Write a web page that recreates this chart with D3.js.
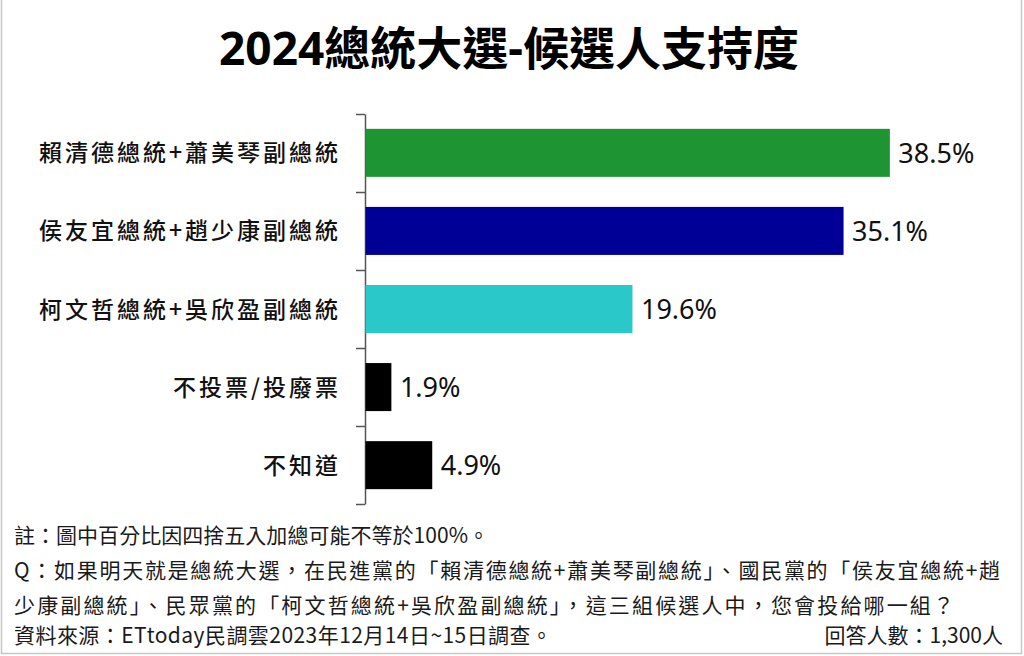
<!DOCTYPE html>
<html>
<head>
<meta charset="utf-8">
<script src="https://cdn.jsdelivr.net/npm/d3@7"></script>
<style>
  html, body { margin: 0; padding: 0; background: #fff; }
  svg { display: block; font-family: "Noto Sans", "Noto Sans CJK TC", sans-serif; }
</style>
</head>
<body>
<svg id="chart" width="1024" height="656"></svg>
<script>
// chart data
const categories = [
  "賴清德總統+蕭美琴副總統",
  "侯友宜總統+趙少康副總統",
  "柯文哲總統+吳欣盈副總統",
  "不投票/投廢票",
  "不知道"
];
const values = [38.5, 35.1, 19.6, 1.9, 4.9];
const barColors = ["#1f9433", "#000096", "#2ac8c8", "#000000", "#000000"];

const title = "2024總統大選-候選人支持度";
const notes = [
  "註：圖中百分比因四捨五入加總可能不等於100%。",
  "Q：如果明天就是總統大選，在民進黨的「賴清德總統+蕭美琴副總統」、國民黨的「侯友宜總統+趙",
  "少康副總統」、民眾黨的「柯文哲總統+吳欣盈副總統」，這三組候選人中，您會投給哪一組？",
  "資料來源：ETtoday民調雲2023年12月14日~15日調查。"
];
const respondents = "回答人數：1,300人";

const svg = d3.select("#chart");

// light frame round the picture
svg.append("rect")
  .attr("x", 1.5)
  .attr("y", -2)
  .attr("width", 1020)
  .attr("height", 655.5)
  .attr("fill", "none")
  .attr("stroke", "#c8c8c8")
  .attr("stroke-width", 1.5);

// title
svg.append("text")
  .attr("x", 509)
  .attr("y", 65)
  .attr("text-anchor", "middle")
  .style("font-size", "46px")
  .style("font-weight", "bold")
  .style("fill", "#000")
  .text(title);

// scales
const axisX = 365;
const x = d3.scaleLinear()
  .domain([0, 40])
  .range([axisX, axisX + 13.62 * 40]);

const y = d3.scaleBand()
  .domain(categories)
  .range([114, 504])
  .paddingInner(0.385)
  .paddingOuter(0.19);

// axis with ticks on band boundaries
const yEdge = d3.scaleLinear()
  .domain([0, categories.length])
  .range([114, 504]);

const yAxis = svg.append("g")
  .attr("transform", `translate(${axisX},0)`)
  .call(d3.axisLeft(yEdge)
    .tickValues(d3.range(categories.length + 1))
    .tickFormat("")
    .tickSizeInner(9)
    .tickSizeOuter(0));

yAxis.select(".domain").style("stroke", "#555").style("stroke-width", 1.5);
yAxis.selectAll(".tick line").style("stroke", "#555").style("stroke-width", 1.5);

// bars
svg.append("g")
  .selectAll("rect")
  .data(values)
  .enter()
  .append("rect")
  .attr("x", x(0) + 0.5)
  .attr("y", (d, i) => y(categories[i]))
  .attr("width", d => x(d) - x(0))
  .attr("height", y.bandwidth())
  .attr("fill", (d, i) => barColors[i]);

// value labels
svg.append("g")
  .selectAll("text")
  .data(values)
  .enter()
  .append("text")
  .attr("x", d => x(d) + 9)
  .attr("y", (d, i) => y(categories[i]) + y.bandwidth() / 2 + 10)
  .style("font-size", "27px")
  .style("fill", "#111")
  .text(d => d.toFixed(1) + "%");

// category labels
svg.append("g")
  .selectAll("text")
  .data(categories)
  .enter()
  .append("text")
  .attr("x", 341)
  .attr("y", d => y(d) + y.bandwidth() / 2 + 8.5)
  .attr("text-anchor", "end")
  .style("font-family", "'Noto Sans CJK TC', sans-serif")
  .style("font-size", "23px")
  .style("font-weight", 500)
  .style("letter-spacing", "3px")
  .style("fill", "#111")
  .text(d => d);

// footnotes, each line stretched to the width it has in the original
const noteY = [543, 578, 613, 643];
const noteWidths = [475, 986, 940, 538];
svg.append("g")
  .selectAll("text")
  .data(notes)
  .enter()
  .append("text")
  .attr("x", 14)
  .attr("y", (d, i) => noteY[i])
  .attr("textLength", (d, i) => noteWidths[i])
  .attr("lengthAdjust", "spacing")
  .style("font-family", "'Noto Sans CJK TC', sans-serif")
  .style("font-size", "21px")
  .style("fill", "#1a1a1a")
  .text(d => d);

svg.append("text")
  .attr("x", 1003)
  .attr("y", noteY[3])
  .attr("text-anchor", "end")
  .style("font-family", "'Noto Sans CJK TC', sans-serif")
  .style("font-size", "21px")
  .style("fill", "#1a1a1a")
  .text(respondents);
</script>
</body>
</html>
